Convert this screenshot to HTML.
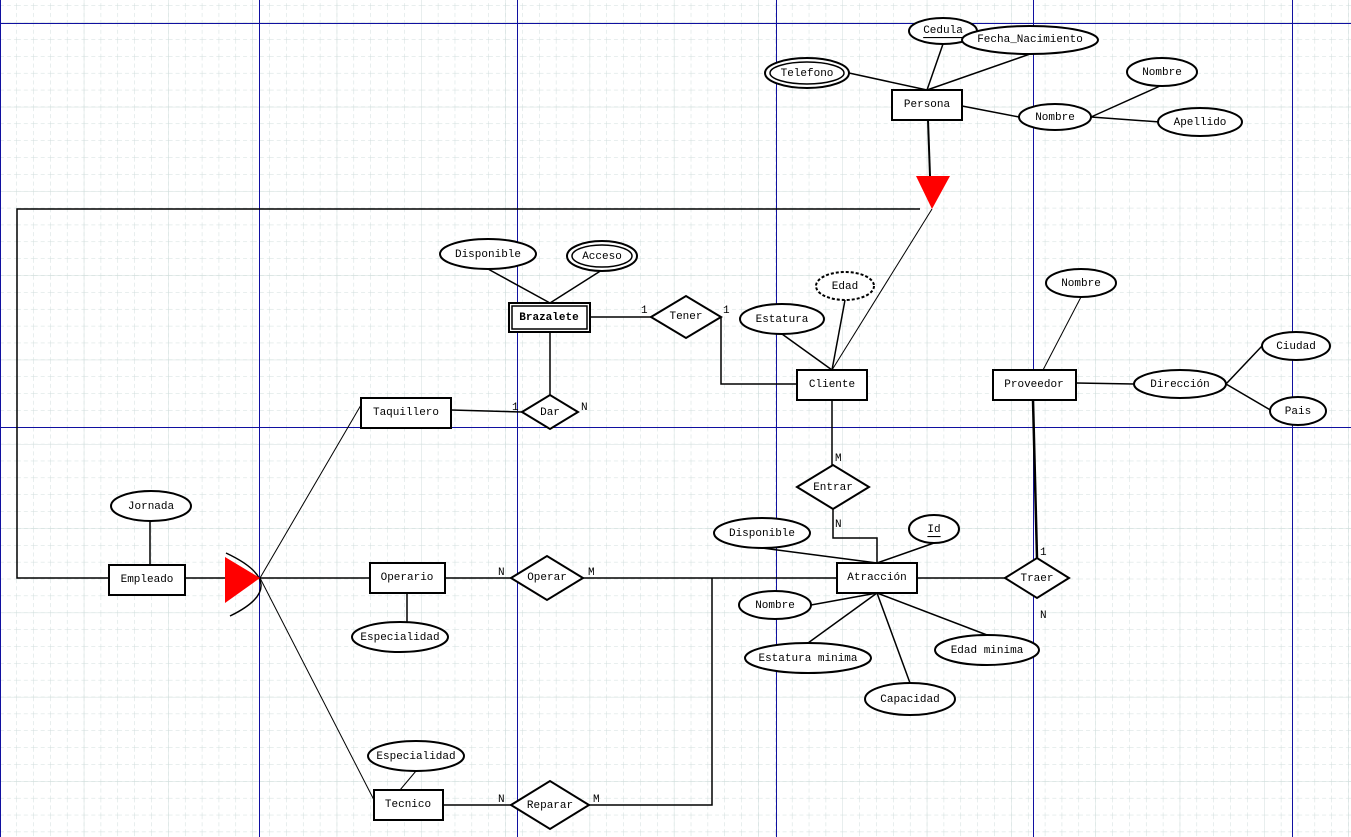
<!DOCTYPE html>
<html><head><meta charset="utf-8"><style>
html,body{margin:0;padding:0;background:#fff}
svg{display:block}
text{font-family:"Liberation Mono",monospace;font-size:11px;fill:#000}
</style></head><body>
<svg width="1351" height="837" xmlns="http://www.w3.org/2000/svg">
<defs>
<pattern id="minor" width="16.86" height="16.86" patternUnits="userSpaceOnUse" x="0" y="6">
<path d="M16.86 0V16.86M0 16.86H16.86" stroke="#d0dedc" stroke-width="1" stroke-dasharray="4,3" fill="none"/>
</pattern>
<pattern id="major" width="84.3" height="84.3" patternUnits="userSpaceOnUse" x="0" y="23">
<path d="M84.3 0V84.3M0 84.3H84.3" stroke="#d0dedc" stroke-width="1" fill="none"/>
</pattern>
</defs>
<rect width="1351" height="837" fill="#fff"/>
<rect width="1351" height="837" fill="url(#minor)"/>
<rect width="1351" height="837" fill="url(#major)"/>
<g stroke="#1010a0" stroke-width="1">
<line x1="0" y1="23.5" x2="1351" y2="23.5"/><line x1="0" y1="427.5" x2="1351" y2="427.5"/>
<line x1="0.5" y1="0" x2="0.5" y2="837"/><line x1="259.5" y1="0" x2="259.5" y2="837"/>
<line x1="517.5" y1="0" x2="517.5" y2="837"/><line x1="776.5" y1="0" x2="776.5" y2="837"/>
<line x1="1033.5" y1="0" x2="1033.5" y2="837"/><line x1="1292.5" y1="0" x2="1292.5" y2="837"/>
</g>
<g stroke="#000" stroke-width="1.5" fill="none">
<line x1="927" y1="90" x2="943" y2="44"/><line x1="927" y1="90" x2="1030" y2="54"/>
<line x1="927" y1="90" x2="849" y2="73"/><line x1="962" y1="106" x2="1019" y2="117"/>
<line x1="1091" y1="117" x2="1160" y2="86"/><line x1="1091" y1="117" x2="1160" y2="122"/>
<line x1="928" y1="120" x2="930" y2="176" stroke-width="2"/>
<polyline points="920,209 17,209 17,578 109,578"/>
<line x1="932" y1="209" x2="832" y2="370" stroke-width="1"/>
<line x1="185" y1="578" x2="225" y2="578"/>
<line x1="260" y1="578" x2="361" y2="405" stroke-width="1"/>
<line x1="260" y1="578" x2="370" y2="578"/>
<line x1="260" y1="578" x2="374" y2="800" stroke-width="1"/>
<path d="M226 553 Q294 585 230 616"/>
<line x1="150" y1="521" x2="150" y2="565"/>
<line x1="451" y1="410" x2="522" y2="412"/>
<line x1="550" y1="332" x2="550" y2="395"/>
<line x1="488" y1="269" x2="550" y2="303"/><line x1="602" y1="270" x2="550" y2="303"/>
<line x1="590" y1="317" x2="651" y2="317"/>
<polyline points="721,317 721,384 797,384"/>
<line x1="782" y1="334" x2="832" y2="370"/><line x1="845" y1="300" x2="832" y2="370"/>
<line x1="832" y1="400" x2="832" y2="465"/>
<polyline points="833,509 833,538 877,538 877,563"/>
<line x1="762" y1="548" x2="877" y2="563"/><line x1="934" y1="543" x2="877" y2="563"/>
<line x1="445" y1="578" x2="511" y2="578"/>
<line x1="583" y1="578" x2="837" y2="578"/>
<polyline points="712,578 712,805 589,805"/>
<line x1="443" y1="805" x2="511" y2="805"/>
<line x1="407" y1="593" x2="407" y2="622"/>
<line x1="416" y1="771" x2="400" y2="790" stroke-width="1"/>
<line x1="917" y1="578" x2="1005" y2="578"/>
<line x1="1037" y1="558" x2="1033" y2="400" stroke-width="2.5"/>
<line x1="877" y1="593" x2="811" y2="605"/><line x1="877" y1="593" x2="808" y2="643"/>
<line x1="877" y1="593" x2="910" y2="683"/><line x1="877" y1="593" x2="987" y2="635"/>
<line x1="1076" y1="383" x2="1134" y2="384"/>
<line x1="1226" y1="384" x2="1262" y2="346"/><line x1="1226" y1="384" x2="1272" y2="411"/>
<line x1="1043" y1="370" x2="1081" y2="297" stroke-width="1"/>
</g>
<polygon points="916,176 950,176 932,209" fill="#f00"/>
<polygon points="225,557 225,603 260,578" fill="#f00"/>
<g stroke="#000" stroke-width="2" fill="#fff">
<rect x="892" y="90" width="70" height="30"/>
<rect x="509" y="303" width="81" height="29"/>
<rect x="797" y="370" width="70" height="30"/>
<rect x="993" y="370" width="83" height="30"/>
<rect x="361" y="398" width="90" height="30"/>
<rect x="109" y="565" width="76" height="30"/>
<rect x="370" y="563" width="75" height="30"/>
<rect x="837" y="563" width="80" height="30"/>
<rect x="374" y="790" width="69" height="30"/>
<polygon points="651,317 686,296 721,317 686,338"/>
<polygon points="522,412 550,395 578,412 550,429"/>
<polygon points="797,487 833,465 869,487 833,509"/>
<polygon points="511,578 547,556 583,578 547,600"/>
<polygon points="1005,578 1037,558 1069,578 1037,598"/>
<polygon points="511,805 550,781 589,805 550,829"/>
<ellipse cx="943" cy="31" rx="34" ry="13"/>
<ellipse cx="1030" cy="40" rx="68" ry="14"/>
<ellipse cx="807" cy="73" rx="42" ry="15"/>
<ellipse cx="1055" cy="117" rx="36" ry="13"/>
<ellipse cx="1162" cy="72" rx="35" ry="14"/>
<ellipse cx="1200" cy="122" rx="42" ry="14"/>
<ellipse cx="488" cy="254" rx="48" ry="15"/>
<ellipse cx="602" cy="256" rx="35" ry="15"/>
<ellipse cx="845" cy="286" rx="29" ry="14" stroke-dasharray="3,2"/>
<ellipse cx="782" cy="319" rx="42" ry="15"/>
<ellipse cx="1081" cy="283" rx="35" ry="14"/>
<ellipse cx="1296" cy="346" rx="34" ry="14"/>
<ellipse cx="1180" cy="384" rx="46" ry="14"/>
<ellipse cx="1298" cy="411" rx="28" ry="14"/>
<ellipse cx="151" cy="506" rx="40" ry="15"/>
<ellipse cx="762" cy="533" rx="48" ry="15"/>
<ellipse cx="934" cy="529" rx="25" ry="14"/>
<ellipse cx="400" cy="637" rx="48" ry="15"/>
<ellipse cx="775" cy="605" rx="36" ry="14"/>
<ellipse cx="808" cy="658" rx="63" ry="15"/>
<ellipse cx="987" cy="650" rx="52" ry="15"/>
<ellipse cx="910" cy="699" rx="45" ry="16"/>
<ellipse cx="416" cy="756" rx="48" ry="15"/>
</g>
<g stroke="#000" stroke-width="1.5" fill="none">
<rect x="512" y="306" width="75" height="23"/>
<ellipse cx="807" cy="73" rx="37" ry="11"/>
<ellipse cx="602" cy="256" rx="30" ry="11"/>
</g>
<g text-anchor="middle" dominant-baseline="central">
<text x="927" y="105">Persona</text>
<text x="549" y="318" font-weight="bold">Brazalete</text>
<text x="832" y="385">Cliente</text>
<text x="1034" y="385">Proveedor</text>
<text x="406" y="413">Taquillero</text>
<text x="147" y="580">Empleado</text>
<text x="407" y="578">Operario</text>
<text x="877" y="578">Atracción</text>
<text x="408" y="805">Tecnico</text>
<text x="686" y="317">Tener</text>
<text x="550" y="413">Dar</text>
<text x="833" y="488">Entrar</text>
<text x="547" y="578">Operar</text>
<text x="1037" y="579">Traer</text>
<text x="550" y="806">Reparar</text>
<text x="943" y="31" text-decoration="underline">Cedula</text>
<text x="1030" y="40">Fecha_Nacimiento</text>
<text x="807" y="74">Telefono</text>
<text x="1055" y="118">Nombre</text>
<text x="1162" y="73">Nombre</text>
<text x="1200" y="123">Apellido</text>
<text x="488" y="255">Disponible</text>
<text x="602" y="257">Acceso</text>
<text x="845" y="287">Edad</text>
<text x="782" y="320">Estatura</text>
<text x="1081" y="284">Nombre</text>
<text x="1296" y="347">Ciudad</text>
<text x="1180" y="385">Dirección</text>
<text x="1298" y="412">Pais</text>
<text x="151" y="507">Jornada</text>
<text x="762" y="534">Disponible</text>
<text x="934" y="530" text-decoration="underline">Id</text>
<text x="400" y="638">Especialidad</text>
<text x="775" y="606">Nombre</text>
<text x="808" y="659">Estatura minima</text>
<text x="987" y="651">Edad minima</text>
<text x="910" y="700">Capacidad</text>
<text x="416" y="757">Especialidad</text>
</g>
<g font-size="10">
<text x="641" y="313">1</text><text x="723" y="313">1</text>
<text x="512" y="410">1</text><text x="581" y="410">N</text>
<text x="835" y="461">M</text><text x="835" y="527">N</text>
<text x="498" y="575">N</text><text x="588" y="575">M</text>
<text x="1040" y="555">1</text><text x="1040" y="618">N</text>
<text x="498" y="802">N</text><text x="593" y="802">M</text>
</g>
</svg>
</body></html>
